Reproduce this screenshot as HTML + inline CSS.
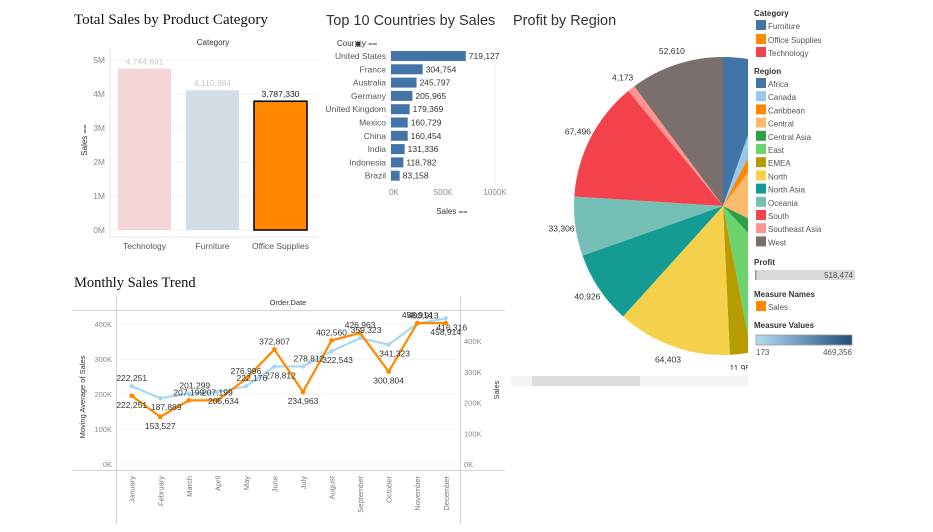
<!DOCTYPE html>
<html><head><meta charset="utf-8">
<style>
body{margin:0;background:#fff;width:933px;height:532px;overflow:hidden;font-family:"Liberation Sans",sans-serif;}
svg{position:absolute;left:0;top:0}
text{font-family:"Liberation Sans",sans-serif}
</style></head><body>
<svg id="s" width="933" height="532">
<defs>
<clipPath id="pieclip"><rect x="500" y="40" width="248" height="330"/></clipPath>
<linearGradient id="mv" x1="0" x2="1"><stop offset="0" stop-color="#b5dcf3"/><stop offset="1" stop-color="#1f4e7c"/></linearGradient>
</defs>
<text x="74" y="24" font-family="Liberation Serif" font-size="15" fill="#111" style="font-family:'Liberation Serif',serif">Total Sales by Product Category</text>
<text x="326" y="25" font-size="14.5" fill="#333">Top 10 Countries by Sales</text>
<text x="513" y="25" font-size="14.5" fill="#333">Profit by Region</text>
<text x="74" y="287" font-size="14.5" fill="#111" style="font-family:'Liberation Serif',serif">Monthly Sales Trend</text>
<g id="bars"></g><g id="ctry"></g><g id="line"></g><g id="pie" clip-path="url(#pieclip)"></g><g id="legend"></g>
</svg>
<script>
const NS="http://www.w3.org/2000/svg";
function mk(p,t,a,txt){const e=document.createElementNS(NS,t);for(const k in a)e.setAttribute(k,a[k]);if(txt!==undefined)e.textContent=txt;p.appendChild(e);return e;}
const fmt=v=>v.toLocaleString('en-US');

// ---- category bar chart ----
const catNames=["Technology","Furniture","Office Supplies"];
const catSales=[4744691,4110884,3787330];
const catTicks=[0,1,2,3,4,5];
const catFill=["#f4d4d6","#d3dde6","#ff8800"];
const catLbl=["#c8c8c8","#c8c8c8","#222"];
(function(){
const g=document.getElementById('bars');
const y=v=>230-v/1e6*34;
mk(g,'text',{x:213,y:45,'font-size':8,fill:'#333','text-anchor':'middle'},'Category');
mk(g,'line',{x1:110,x2:110,y1:48,y2:237,stroke:'#e6e6e6'});
mk(g,'line',{x1:110,x2:318,y1:237,y2:237,stroke:'#e6e6e6'});
catTicks.forEach(t=>{
 const gl=mk(g,'line',{x1:110,x2:318,y1:y(t*1e6),y2:y(t*1e6),stroke:'#f2f2f2'});
 const tx=mk(g,'text',{x:105,y:y(t*1e6)+3,'font-size':8.5,fill:'#888','text-anchor':'end'},t+'M');
 
 
});
const yt=mk(g,'text',{x:87,y:140,'font-size':8,fill:'#333',transform:'rotate(-90 87 140)','text-anchor':'middle'},'Sales ⩵');
catNames.forEach((c,i)=>{
 const x0=118+i*68;
 const r=mk(g,'rect',{x:x0,y:y(catSales[i]),width:53,height:230-y(catSales[i]),fill:catFill[i],stroke:i==2?'#000':'none','stroke-width':1.5});
 
 
 mk(g,'text',{x:x0+26.5,y:y(catSales[i])-4,'font-size':8.5,fill:catLbl[i],'text-anchor':'middle'},fmt(catSales[i]));
 const xl=mk(g,'text',{x:x0+26.5,y:249,'font-size':8.5,fill:'#555','text-anchor':'middle'},c);
 
 
});
})();

// ---- countries ----
const countries=["United States","France","Australia","Germany","United Kingdom","Mexico","China","India","Indonesia","Brazil"];
const countrySales=[719127,304754,245797,205965,179369,160729,160454,131336,118782,83158];
const ctryTicks=[0,500000,1000000];
(function(){
const g=document.getElementById('ctry');
const x=v=>391+v/1e6*104;
mk(g,'text',{x:337,y:46,'font-size':8,fill:'#333'},'Cour▣y ⩵');
mk(g,'line',{x1:x(1e6),x2:x(1e6),y1:48,y2:184,stroke:'#f0f0f0'});
mk(g,'line',{x1:391,x2:391,y1:48,y2:184,stroke:'#e6e6e6'});
countries.forEach((c,i)=>{
 const cy=56+i*13.3;
 const r=mk(g,'rect',{x:391,y:cy-5,width:x(countrySales[i])-391,height:10,fill:'#4274a8'});
 
 
 mk(g,'text',{x:386,y:cy+3,'font-size':8.5,fill:'#555','text-anchor':'end'},c);
 mk(g,'text',{x:x(countrySales[i])+3,y:cy+3,'font-size':8.5,fill:'#333'},fmt(countrySales[i]));
});
ctryTicks.forEach(t=>{
 mk(g,'text',{x:x(t)+(t==0?3:0),y:195,'font-size':8,fill:'#888','text-anchor':'middle'},(t/1000)+'K');
});
mk(g,'text',{x:452,y:214,'font-size':8,fill:'#333','text-anchor':'middle'},'Sales ⩵');
})();

// ---- monthly line chart ----
const months=["January","February","March","April","May","June","July","August","September","October","November","December"];
const movingAvg=[222251,187889,201299,205634,222176,278812,278812,322543,359323,341323,400913,416316];
const monthlySales=[222251,153527,207199,207199,276996,372807,234963,402560,426963,300804,458914,458914];
const leftTicks=[0,100000,200000,300000,400000];
const rightTicks=[0,100000,200000,300000,400000];
(function(){
const g=document.getElementById('line');
const x=i=>131.7+i*28.55;
const yl=v=>464-v/1e5*35;
const yr=v=>464-v/1e5*30.7;
mk(g,'line',{x1:72,x2:505,y1:310.5,y2:310.5,stroke:'#d4d4d4'});
mk(g,'line',{x1:72,x2:505,y1:470.5,y2:470.5,stroke:'#d4d4d4'});
mk(g,'line',{x1:116.5,x2:116.5,y1:296,y2:524,stroke:'#d4d4d4'});
mk(g,'line',{x1:460.5,x2:460.5,y1:296,y2:524,stroke:'#d4d4d4'});
mk(g,'text',{x:288,y:305,'font-size':7.5,fill:'#333','text-anchor':'middle'},'Order.Date');
leftTicks.forEach(t=>{
 mk(g,'line',{x1:117,x2:460,y1:yl(t),y2:yl(t),stroke:'#f3f3f3'});
 mk(g,'text',{x:112,y:yl(t)+3,'font-size':7.5,fill:'#888','text-anchor':'end'},(t/1000)+'K');
});
rightTicks.forEach(t=>{
 mk(g,'text',{x:464,y:yr(t)+3,'font-size':7.5,fill:'#888'},(t/1000)+'K');
});
mk(g,'text',{x:85,y:397,'font-size':7.5,fill:'#333','text-anchor':'middle',transform:'rotate(-90 85 397)'},'Moving Average of Sales');
mk(g,'text',{x:499,y:390,'font-size':7.5,fill:'#333','text-anchor':'middle',transform:'rotate(-90 499 390)'},'Sales');
months.forEach((m,i)=>{
 const t=mk(g,'text',{x:x(i)+3,y:476,'font-size':7.5,fill:'#777','text-anchor':'end',transform:`rotate(-90 ${x(i)+3} 476)`},m);
 
 
});
const ma=mk(g,'polyline',{points:movingAvg.map((v,i)=>x(i)+','+yl(v)).join(' '),fill:'none',stroke:'#a8d8f0','stroke-width':2.2});


movingAvg.forEach((v,i)=>{mk(g,'circle',{cx:x(i),cy:yl(v),r:2.2,fill:'#a8d8f0'});});
const sl=mk(g,'polyline',{points:monthlySales.map((v,i)=>x(i)+','+yr(v)).join(' '),fill:'none',stroke:'#ff8800','stroke-width':2.2});


monthlySales.forEach((v,i)=>{mk(g,'circle',{cx:x(i),cy:yr(v),r:2.4,fill:'#ff8800'});});
const up=[0,0,1,1,1,1,0,1,1,0,1,0];
monthlySales.forEach((v,i)=>{mk(g,'text',{x:x(i),y:up[i]?yr(v)-5:yr(v)+12,'font-size':8.5,fill:'#333','text-anchor':'middle'},fmt(v));});
movingAvg.forEach((v,i)=>{mk(g,'text',{x:x(i)+(i==0?0:6),y:yl(v)+(i%2?12:-5),'font-size':8.5,fill:'#333','text-anchor':'middle'},fmt(v));});
})();

// ---- pie ----
const regions=["Africa","Canada","Caribbean","Central","Central Asia","East","EMEA","North","North Asia","Oceania","South","Southeast Asia","West"];
const profits=[28084,11522,13682,113776,30244,46086,11954,64403,40926,33306,67496,4173,52610];
const regionColors=["#4274a8","#98c9ec","#ff8800","#ffbb6b","#2fa04a","#6dd36e","#b89b00","#f5d14b","#149b93","#75bfb7","#f4424d","#ff9490","#7a6f6d"];
(function(){
const g=document.getElementById('pie');
const cx=723,cy=206,R=149;
const tot=profits.reduce((a,b)=>a+b,0);
let a0=0;
profits.forEach((v,i)=>{
 const a1=a0+v/tot*2*Math.PI;
 const p=(a)=>[cx+R*Math.sin(a),cy-R*Math.cos(a)];
 const [x0,y0]=p(a0),[x1,y1]=p(a1);
 const large=(a1-a0)>Math.PI?1:0;
 const s=mk(g,'path',{d:`M${cx},${cy} L${x0},${y0} A${R},${R} 0 ${large} 1 ${x1},${y1} Z`,fill:regionColors[i]});
 
 
 const am=(a0+a1)/2;
 const lx=cx+(R+14)*Math.sin(am), ly=cy-(R+14)*Math.cos(am)+3;
 if(lx<745) mk(g,'text',{x:lx,y:ly,'font-size':8.5,fill:'#333','text-anchor':'middle'},fmt(v));
 a0=a1;
});
})();
(function(){
const g=document.getElementById('legend');
mk(g,'rect',{x:511,y:376,width:237,height:10,fill:'#f3f3f3'});
mk(g,'rect',{x:532,y:376,width:108,height:10,fill:'#dcdcdc'});
const T=(y,t)=>mk(g,'text',{x:754,y:y,'font-size':8,fill:'#333','font-weight':'bold'},t);
const I=(y,c,t)=>{const r=mk(g,'rect',{x:756,y:y-6,width:10,height:10,fill:c});
 
 
 mk(g,'text',{x:768,y:y+3,'font-size':8,fill:'#555'},t);};
T(16,'Category');
I(26,'#4274a8','Furniture');I(40,'#ff8800','Office Supplies');I(53,'#f4424d','Technology');
T(74,'Region');
regions.forEach((r,i)=>I(84+i*13.2,regionColors[i],r));
T(265,'Profit');
mk(g,'rect',{x:755,y:270,width:100,height:10,fill:'#d9d9d9'});
mk(g,'rect',{x:755,y:270,width:1.5,height:10,fill:'#999'});
mk(g,'text',{x:853,y:278,'font-size':8,fill:'#555','text-anchor':'end'},'518,474');
T(297,'Measure Names');
I(307,'#ff8800','Sales');
T(328,'Measure Values');
mk(g,'rect',{x:756,y:335,width:96,height:10,fill:'url(#mv)',stroke:'#999','stroke-width':0.8});
mk(g,'text',{x:756,y:355,'font-size':8,fill:'#555'},'173');
mk(g,'text',{x:852,y:355,'font-size':8,fill:'#555','text-anchor':'end'},'469,356');
})();
</script>
</body></html>
